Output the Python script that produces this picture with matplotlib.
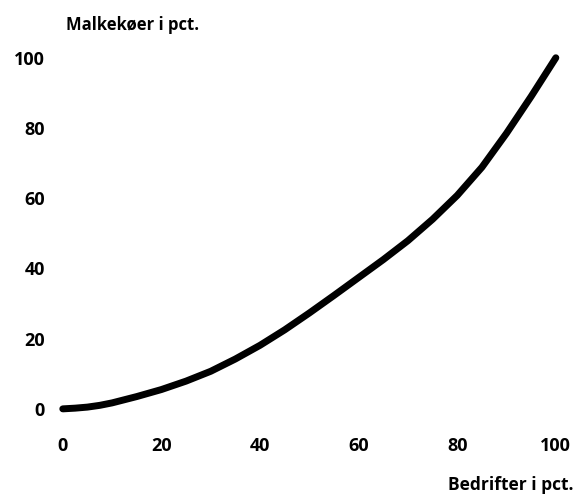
import numpy as np
import matplotlib
matplotlib.use('Agg')
import matplotlib.pyplot as plt

# Lorenz-kurve: andel bedrifter vs andel malkekoeer (kumuleret, pct.)
bedrifter = [0, 2.5, 5, 7.5, 10, 15, 20, 25, 30, 35, 40, 45, 50, 55, 60, 65, 70, 75, 80, 85, 90, 95, 100]
malkekoeer = [0, 0.2, 0.5, 1.0, 1.7, 3.5, 5.5, 7.9, 10.7, 14.2, 18.1, 22.5, 27.3, 32.3, 37.4, 42.5, 47.9, 54, 60.8, 68.8, 78.5, 89, 100]

xticks = [0, 20, 40, 60, 80, 100]
yticks = [0, 20, 40, 60, 80, 100]

plt.rcParams['font.family'] = ['Open Sans', 'DejaVu Sans']
plt.rcParams['font.weight'] = 'bold'

fig = plt.figure(figsize=(5.76, 4.98), dpi=100)
ax = fig.add_axes([0.109, 0.179, 0.856, 0.705])

ax.plot(bedrifter, malkekoeer, color='black', linewidth=5, solid_capstyle='round',
        solid_joinstyle='round', clip_on=False)

ax.set_xlim(0, 100)
ax.set_ylim(0, 100)
ax.set_xticks(xticks)
ax.set_yticks(yticks)
ax.tick_params(axis='both', length=0, labelsize=13)
ax.tick_params(axis='x', pad=20)
ax.tick_params(axis='y', pad=13)
for s in ax.spines.values():
    s.set_visible(False)

fig.text(0.115, 0.95, 'Malkekøer i pct.', fontsize=12, fontweight='bold', va='center', ha='left')
fig.text(0.995, 0.027, 'Bedrifter i pct.', fontsize=12.5, fontweight='bold', va='center', ha='right')

plt.savefig('out.png', dpi=100)
